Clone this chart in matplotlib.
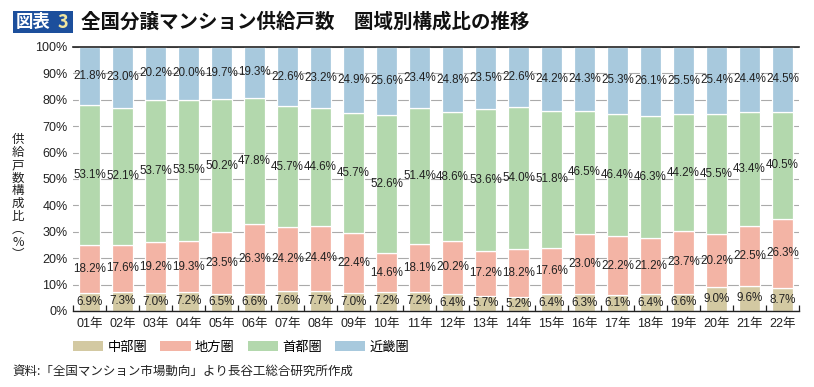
import matplotlib
matplotlib.use("Agg")
import matplotlib.pyplot as plt
from matplotlib.patches import Rectangle, Patch
import numpy as np

plt.rcParams['font.family'] = ['Liberation Sans', 'Noto Sans CJK JP', 'DejaVu Sans']
CJK = ['Noto Sans CJK JP', 'DejaVu Sans']

years = ["01年", "02年", "03年", "04年", "05年", "06年", "07年", "08年", "09年", "10年", "11年",
         "12年", "13年", "14年", "15年", "16年", "17年", "18年", "19年", "20年", "21年", "22年"]
chubu = [6.9, 7.3, 7.0, 7.2, 6.5, 6.6, 7.6, 7.7, 7.0, 7.2, 7.2, 6.4, 5.7, 5.2, 6.4, 6.3, 6.1, 6.4, 6.6, 9.0, 9.6, 8.7]
chiho = [18.2, 17.6, 19.2, 19.3, 23.5, 26.3, 24.2, 24.4, 22.4, 14.6, 18.1, 20.2, 17.2, 18.2, 17.6, 23.0, 22.2, 21.2, 23.7, 20.2, 22.5, 26.3]
shuto = [53.1, 52.1, 53.7, 53.5, 50.2, 47.8, 45.7, 44.6, 45.7, 52.6, 51.4, 48.6, 53.6, 54.0, 51.8, 46.5, 46.4, 46.3, 44.2, 45.5, 43.4, 40.5]
kinki = [21.8, 23.0, 20.2, 20.0, 19.7, 19.3, 22.6, 23.2, 24.9, 25.6, 23.4, 24.8, 23.5, 22.6, 24.2, 24.3, 25.3, 26.1, 25.5, 25.4, 24.4, 24.5]
series_names = ["中部圏", "地方圏", "首都圏", "近畿圏"]
colors = ["#d3c9a2", "#f3b4a5", "#b3d8ad", "#a8c9dd"]

fig = plt.figure(figsize=(8.14, 3.87), dpi=100)
ax = fig.add_axes([0.0897, 0.1964, 0.8919, 0.6822])

x = np.arange(len(years))
series = [chubu, chiho, shuto, kinki]
bottom = np.zeros(len(years))
for vals, col in zip(series, colors):
    v = np.array(vals)
    ax.bar(x, v, 0.64, bottom=bottom, color=col, edgecolor="white", linewidth=0.9, zorder=2)
    for xi, b, h in zip(x, bottom, v):
        ax.text(xi, b + h / 2, f"{h:.1f}%", ha="center", va="center", fontsize=8.4,
                color="#222222", zorder=3)
    bottom = bottom + v

ax.set_xlim(-0.5, len(years) - 0.5)
ax.set_ylim(0, 100)
ax.set_yticks(np.arange(0, 101, 10))
ax.set_yticklabels([f"{t}%" for t in range(0, 101, 10)], fontsize=9, color="#222222")
ax.yaxis.grid(True, color="#aaaaaa", linewidth=0.8, zorder=0)
ax.set_axisbelow(True)
ax.tick_params(axis="y", length=0, pad=4)

ax.set_xticks(x)
ax.set_xticklabels(years, fontsize=9, color="#222222")
ax.tick_params(axis="x", length=0, pad=5)
ax.set_xticks(np.arange(-0.5, len(years), 1), minor=True)
ax.tick_params(axis="x", which="minor", direction="in", length=4, width=0.9, color="#222222")

for s in ["left", "right"]:
    ax.spines[s].set_visible(False)
ax.spines["bottom"].set_color("#222222")
ax.spines["bottom"].set_linewidth(1.0)
ax.spines["top"].set_color("#222222")
ax.spines["top"].set_linewidth(1.2)

# y-axis label (vertical stacked)
fig.text(0.022, 0.49, "\n".join(list("供給戸数構成比")) + "\n︵\n%\n︶", ha="center", va="center",
         fontsize=9, linespacing=0.98, color="#222222", family=CJK)

# Title
fig.patches.append(Rectangle((13 / 814, 1 - 33 / 387), 60 / 814, 22 / 387, transform=fig.transFigure,
                             facecolor="#1c4f9c", edgecolor="none"))
fig.text(16 / 814, 1 - 22 / 387, "図表", ha="left", va="center", fontsize=12.5, fontweight="bold",
         color="white", family=CJK)
fig.text(58 / 814, 1 - 22 / 387, "3", ha="left", va="center", fontsize=13, fontweight="bold",
         color="#f0e6a0", family=CJK)
fig.text(81 / 814, 1 - 22 / 387, "全国分譲マンション供給戸数　圏域別構成比の推移", ha="left", va="center",
         fontsize=14, fontweight="bold", color="#111111", family=CJK)

# Legend
handles = [Patch(facecolor=c, edgecolor="none") for c in colors]
fig.legend(handles, series_names, loc="center", bbox_to_anchor=(241 / 814, 1 - 347 / 387), ncol=4,
           frameon=False, prop={'family': CJK, 'size': 9.5}, handlelength=2.3, handleheight=0.7,
           columnspacing=1.0, handletextpad=0.3)

fig.text(12 / 814, 1 - 371 / 387, "資料:「全国マンション市場動向」より長谷工総合研究所作成", ha="left", va="center",
         fontsize=9, color="#222222", family=CJK)

fig.savefig("out.png", dpi=100)
